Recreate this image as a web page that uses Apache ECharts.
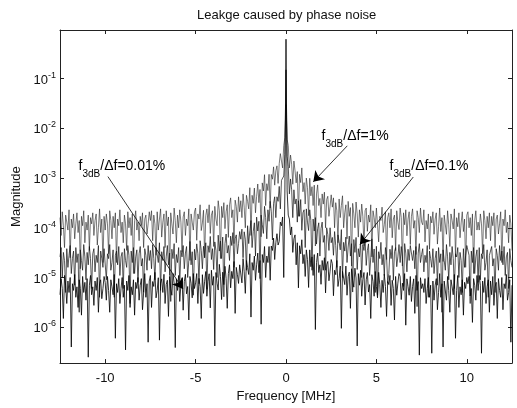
<!DOCTYPE html>
<html>
<head>
<meta charset="utf-8">
<script src="https://cdn.jsdelivr.net/npm/echarts@6/dist/echarts.min.js"></script>
<style>
  html, body { margin: 0; padding: 0; background: #fff; }
  #chart { width: 517px; height: 408px; }
</style>
</head>
<body>
<div id="chart"></div>
<script>
  // frequency bins (MHz): first bin and spacing
  const F_START = -12.5;
  const F_STEP = 0.0625;

  // magnitude spectra, one value per bin (401 bins)
  const magOnePct = [
    1.6e-4, 7e-5, 2.1e-4, 1.1e-4, 4e-5, 1.8e-4, 1.3e-4, 9e-5, 2.3e-4, 2.5e-5,
    1.5e-4, 1e-4, 1.9e-4, 6e-5, 1.2e-4, 2e-4, 8e-5, 1.4e-4, 1.5e-5, 1.7e-4,
    1.1e-4, 2.2e-4, 5e-5, 1.3e-4, 9e-5, 1.8e-4, 3.5e-5, 1.6e-4, 1.2e-4, 2e-4,
    7e-5, 1.4e-4, 1.9e-4, 4.5e-5, 1e-4, 2.4e-4, 8e-5, 1.5e-4, 2e-5, 1.7e-4,

    9e-5, 1.9e-4, 1.2e-4, 3e-5, 2.2e-4, 1.4e-4, 6e-5, 1.7e-4, 1e-4, 2e-4,
    2e-5, 1.5e-4, 1.1e-4, 2.3e-4, 8e-5, 1.3e-4, 5e-5, 1.8e-4, 1.2e-4, 3.5e-5,
    2.1e-4, 1e-4, 1.6e-4, 7e-5, 1.9e-4, 1.2e-5, 1.4e-4, 2.2e-4, 9e-5, 1.3e-4,
    5.5e-5, 1.7e-4, 1.1e-4, 2e-4, 4e-5, 1.5e-4, 1.8e-4, 7.5e-5, 1.2e-4, 2.1e-4,

    1.4e-4, 2.2e-4, 5.5e-5, 1.8e-4, 1.2e-4, 2.8e-5, 2.1e-4, 9e-5, 1.5e-4, 2.4e-4,
    6.5e-5, 1.3e-4, 1.9e-4, 4e-5, 2.2e-4, 1.1e-4, 1.65e-4, 1.1e-5, 2e-4, 1.2e-4,
    7.5e-5, 2.5e-4, 1.4e-4, 5e-5, 1.8e-4, 1e-4, 2.3e-4, 1.3e-4, 3.3e-5, 1.65e-4,
    2.1e-4, 7e-5, 1.5e-4, 1.1e-4, 2.4e-4, 2.2e-5, 1.9e-4, 1.3e-4, 9e-5, 2.1e-4,

    2.5e-4, 5.6e-5, 1.9e-4, 1.5e-4, 2.9e-4, 8.8e-5, 1.25e-4, 2.25e-4, 2.5e-5, 1.75e-4,
    2.4e-4, 1.26e-4, 2.9e-4, 7.7e-5, 1.8e-4, 2.2e-4, 4.2e-5, 2.7e-4, 1.5e-4, 1.1e-4,
    3.5e-4, 2.2e-4, 2.4e-5, 2.7e-4, 1.6e-4, 3.2e-4, 9.6e-5, 2.1e-4, 2.9e-4, 6.4e-5,
    2.9e-4, 4e-4, 1.6e-4, 2.3e-4, 4.8e-5, 3.6e-4, 2.7e-4, 1.3e-4, 4.2e-4, 2.1e-4,

    3.5e-4, 1.6e-4, 4.8e-4, 2.6e-4, 1e-4, 4.5e-4, 3.4e-4, 2.4e-4, 6.4e-4, 7e-5,
    4.5e-4, 3.1e-4, 6.3e-4, 2e-4, 4.3e-4, 7.6e-4, 3.2e-4, 5.9e-4, 6.6e-5, 8e-4,
    5.5e-4, 1.17e-3, 2.8e-4, 7.7e-4, 5.6e-4, 1.19e-3, 2.5e-4, 1.18e-3, 9.5e-4, 1.68e-3,
    7.2e-4, 1.4e-3, 1.76e-3, 7.8e-4, 1.95e-3, 3.1e-3, 2.2e-3, 1.6e-3, 4.5e-3, 6.5e-3,

    3e-2,

    6e-3, 4.5e-3, 1.6e-3, 2.9e-3, 1.9e-3, 7.5e-4, 2.2e-3, 1.4e-3, 8e-4, 1.35e-3,
    1.7e-4, 1.19e-3, 8.1e-4, 1.6e-3, 5.3e-4, 8.1e-4, 3e-4, 1e-3, 6.4e-4, 1.75e-4,
    9.9e-4, 4.4e-4, 6.7e-4, 2.8e-4, 7.2e-4, 4.3e-5, 4.8e-4, 7.3e-4, 2.8e-4, 3.9e-4,
    1.6e-4, 4.8e-4, 3e-4, 5.2e-4, 1e-4, 3.7e-4, 4.3e-4, 1.7e-4, 2.7e-4, 4.6e-4,

    2.6e-4, 4e-4, 1e-4, 3.2e-4, 2.2e-4, 5e-5, 3.8e-4, 1.6e-4, 2.8e-4, 4.4e-4,
    1e-4, 2e-4, 2.9e-4, 6e-5, 3.4e-4, 1.7e-4, 2.55e-4, 1.7e-5, 3.1e-4, 1.9e-4,
    1e-4, 3.3e-4, 1.9e-4, 6.5e-5, 2.3e-4, 1.3e-4, 3e-4, 1.7e-4, 4.4e-5, 2.2e-4,
    2.5e-4, 8.5e-5, 1.8e-4, 1.3e-4, 2.9e-4, 2.6e-5, 2.2e-4, 1.6e-4, 1e-4, 2.5e-4,

    2.3e-4, 5.2e-5, 1.7e-4, 1.4e-4, 2.6e-4, 8e-5, 1.15e-4, 2.1e-4, 2.3e-5, 1.6e-4,
    2e-4, 1e-4, 2.4e-4, 6.3e-5, 1.5e-4, 1.8e-4, 3.5e-5, 2.2e-4, 1.3e-4, 9.2e-5,
    2.5e-4, 1.6e-4, 1.7e-5, 2e-4, 1.15e-4, 2.3e-4, 6.9e-5, 1.5e-4, 2.1e-4, 4.6e-5,
    1.7e-4, 2.4e-4, 9.8e-5, 1.4e-4, 2.9e-5, 2.2e-4, 1.6e-4, 8e-5, 2.5e-4, 1.3e-4,

    1.15e-4, 2.3e-4, 5.2e-5, 1.4e-4, 9.5e-5, 1.9e-4, 3.7e-5, 1.7e-4, 1.25e-4, 2.1e-4,
    7.4e-5, 1.5e-4, 2e-4, 4.7e-5, 1.05e-4, 2.5e-4, 8.4e-5, 1.6e-4, 2.1e-5, 1.8e-4,
    1.7e-4, 7.4e-5, 2.2e-4, 1.15e-4, 4.2e-5, 1.9e-4, 1.4e-4, 9.5e-5, 2.4e-4, 2.6e-5,
    1.6e-4, 1.05e-4, 2e-4, 6.3e-5, 1.25e-4, 2.1e-4, 8.4e-5, 1.5e-4, 1.6e-5, 1.8e-4,

    2.1e-4, 1e-4, 1.6e-4, 7e-5, 1.9e-4, 1.2e-5, 1.4e-4, 2.2e-4, 9e-5, 1.3e-4,
    9e-5, 1.9e-4, 1.2e-4, 3e-5, 2.2e-4, 1.4e-4, 6e-5, 1.7e-4, 1e-4, 2e-4,
    5.5e-5, 1.7e-4, 1.1e-4, 2e-4, 4e-5, 1.5e-4, 1.8e-4, 7.5e-5, 1.2e-4, 2.1e-4,
    2e-5, 1.5e-4, 1.1e-4, 2.3e-4, 8e-5, 1.3e-4, 5e-5, 1.8e-4, 1.2e-4, 3.5e-5
  ];

  const magPointOnePct = [
    2.6e-5, 4e-5, 1e-5, 3.2e-5, 2.2e-5, 5e-6, 3.8e-5, 1.6e-5, 2.8e-5, 4.4e-5,
    1.2e-5, 2.4e-5, 3.4e-5, 7e-6, 4e-5, 2e-5, 3e-5, 2e-6, 3.6e-5, 2.2e-5,
    1.4e-5, 4.6e-5, 2.6e-5, 9e-6, 3.2e-5, 1.8e-5, 4.2e-5, 2.4e-5, 6e-6, 3e-5,
    3.8e-5, 1.3e-5, 2.8e-5, 2e-5, 4.4e-5, 4e-6, 3.4e-5, 2.4e-5, 1.6e-5, 3.8e-5,

    4e-5, 9e-6, 3e-5, 2.4e-5, 4.6e-5, 1.4e-5, 2e-5, 3.6e-5, 4e-6, 2.8e-5,
    3.4e-5, 1.8e-5, 4.2e-5, 1.1e-5, 2.6e-5, 3.2e-5, 6e-6, 3.8e-5, 2.2e-5, 1.6e-5,
    4.4e-5, 2.8e-5, 3e-6, 3.4e-5, 2e-5, 4e-5, 1.2e-5, 2.6e-5, 3.6e-5, 8e-6,
    3e-5, 4.2e-5, 1.7e-5, 2.4e-5, 5e-6, 3.8e-5, 2.8e-5, 1.4e-5, 4.4e-5, 2.2e-5,

    3.5e-5, 1.5e-5, 4.6e-5, 2.4e-5, 9e-6, 4e-5, 2.9e-5, 2e-5, 5e-5, 5.5e-6,
    3.3e-5, 2.2e-5, 4.2e-5, 1.3e-5, 2.6e-5, 4.4e-5, 1.8e-5, 3.1e-5, 3.3e-6, 3.7e-5,
    2.4e-5, 4.8e-5, 1.1e-5, 2.9e-5, 2e-5, 4e-5, 7.7e-6, 3.5e-5, 2.6e-5, 4.4e-5,
    1.5e-5, 3.1e-5, 4.2e-5, 1e-5, 2.2e-5, 5.3e-5, 1.8e-5, 3.3e-5, 4.4e-6, 3.7e-5,

    2.25e-5, 4.75e-5, 3e-5, 7.5e-6, 5.5e-5, 3.5e-5, 1.5e-5, 4.25e-5, 2.5e-5, 5e-5,
    5.8e-6, 4.35e-5, 3.2e-5, 6.7e-5, 2.3e-5, 3.8e-5, 1.45e-5, 5.2e-5, 3.5e-5, 1e-5,
    7.1e-5, 3.4e-5, 5.4e-5, 2.4e-5, 6.5e-5, 4.1e-6, 4.8e-5, 7.5e-5, 3.1e-5, 4.4e-5,
    2.2e-5, 6.8e-5, 4.4e-5, 8e-5, 1.6e-5, 6e-5, 7.2e-5, 3e-5, 4.8e-5, 8.4e-5,

    5.9e-5, 9.4e-5, 2.5e-5, 8.3e-5, 5.9e-5, 1.4e-5, 1.1e-4, 4.8e-5, 8.7e-5, 1.4e-4,
    4e-5, 8.4e-5, 1.26e-4, 2.7e-5, 1.64e-4, 8.6e-5, 1.35e-4, 9.5e-6, 1.8e-4, 1.16e-4,
    7.7e-5, 2.7e-4, 1.6e-4, 6e-5, 2.3e-4, 1.35e-4, 3.4e-4, 2.1e-4, 5.7e-5, 3.1e-4,
    4.2e-4, 1.6e-4, 4.2e-4, 3.4e-4, 6.8e-4, 2.4e-4, 9e-4, 8.8e-4, 1.1e-3, 3e-3,

    0.15,

    2.75e-3, 1.7e-3, 4.8e-4, 9.6e-4, 5.8e-4, 1.6e-4, 5.8e-4, 3e-4, 3.8e-4, 1.3e-4,
    3.5e-4, 1.7e-4, 3.7e-4, 8.9e-5, 2e-4, 2.3e-4, 4e-5, 2.4e-4, 1.3e-4, 8.8e-5,
    2.3e-4, 1.4e-4, 1.4e-5, 1.5e-4, 8.6e-5, 1.6e-4, 4.7e-5, 9.6e-5, 1.26e-4, 2.7e-5,
    9.6e-5, 1.3e-4, 5.1e-5, 7e-5, 1.4e-5, 1e-4, 7.3e-5, 3.5e-5, 1e-4, 5e-5,

    6.4e-5, 2.8e-5, 8.4e-5, 4.4e-5, 1.6e-5, 7.2e-5, 5.2e-5, 3.6e-5, 9.2e-5, 1e-5,
    5.1e-5, 3.4e-5, 6.5e-5, 2e-5, 4.1e-5, 6.8e-5, 2.7e-5, 4.8e-5, 5.1e-6, 5.8e-5,
    3.2e-5, 6.4e-5, 1.45e-5, 3.8e-5, 2.6e-5, 5.2e-5, 1e-5, 4.6e-5, 3.5e-5, 5.8e-5,
    1.75e-5, 3.5e-5, 4.75e-5, 1.1e-5, 2.5e-5, 6e-5, 2e-5, 3.75e-5, 5e-6, 4.25e-5,

    4.4e-6, 3.3e-5, 2.4e-5, 5.1e-5, 1.8e-5, 2.9e-5, 1.1e-5, 4e-5, 2.6e-5, 7.7e-6,
    1.2e-5, 3.7e-5, 2.4e-5, 4.4e-5, 8.8e-6, 3.3e-5, 4e-5, 1.65e-5, 2.6e-5, 4.6e-5,
    2e-5, 4.2e-5, 2.6e-5, 6.6e-6, 4.8e-5, 3.1e-5, 1.3e-5, 3.7e-5, 2.2e-5, 4.4e-5,
    4.6e-5, 2.2e-5, 3.5e-5, 1.5e-5, 4.2e-5, 2.6e-6, 3.1e-5, 4.8e-5, 2e-5, 2.9e-5,

    3.8e-5, 1.3e-5, 2.8e-5, 2e-5, 4.4e-5, 4e-6, 3.4e-5, 2.4e-5, 1.6e-5, 3.8e-5,
    1.2e-5, 2.4e-5, 3.4e-5, 7e-6, 4e-5, 2e-5, 3e-5, 2e-6, 3.6e-5, 2.2e-5,
    1.4e-5, 4.6e-5, 2.6e-5, 9e-6, 3.2e-5, 1.8e-5, 4.2e-5, 2.4e-5, 6e-6, 3e-5,
    2.6e-5, 4e-5, 1e-5, 3.2e-5, 2.2e-5, 5e-6, 3.8e-5, 1.6e-5, 2.8e-5, 4.4e-5,

    4.4e-5, 2.8e-5, 3e-6, 3.4e-5, 2e-5, 4e-5, 1.2e-5, 2.6e-5, 3.6e-5, 8e-6,
    4e-5, 9e-6, 3e-5, 2.4e-5, 4.6e-5, 1.4e-5, 2e-5, 3.6e-5, 4e-6, 2.8e-5,
    3e-5, 4.2e-5, 1.7e-5, 2.4e-5, 5e-6, 3.8e-5, 2.8e-5, 1.4e-5, 4.4e-5, 2.2e-5,
    3.4e-5, 1.8e-5, 4.2e-5, 1.1e-5, 2.6e-5, 3.2e-5, 6e-6, 3.8e-5, 2.2e-5, 1.6e-5
  ];

  const magPointZeroOnePct = [
    4.5e-6, 9.5e-6, 6e-6, 1.5e-6, 1.1e-5, 7e-6, 3e-6, 8.5e-6, 5e-6, 1e-5,
    4e-7, 7.5e-6, 5.5e-6, 1.15e-5, 4e-6, 6.5e-6, 2.5e-6, 9e-6, 6e-6, 1.75e-6,
    1.05e-5, 5e-6, 8e-6, 3.5e-6, 9.5e-6, 2.5e-7, 7e-6, 1.1e-5, 4.5e-6, 6.5e-6,
    2.75e-6, 8.5e-6, 5.5e-6, 1e-5, 2e-6, 7.5e-6, 9e-6, 3.75e-6, 6e-6, 1.05e-5,

    8e-6, 3.5e-6, 1.05e-5, 5.5e-6, 2e-6, 9e-6, 6.5e-6, 4.5e-6, 1.15e-5, 6e-7,
    7.5e-6, 5e-6, 9.5e-6, 3e-6, 6e-6, 1e-5, 4e-6, 7e-6, 3.5e-7, 8.5e-6,
    5.5e-6, 1.1e-5, 2.5e-6, 6.5e-6, 4.5e-6, 9e-6, 1.75e-6, 8e-6, 6e-6, 1e-5,
    3.5e-6, 7e-6, 9.5e-6, 2.25e-6, 5e-6, 1.2e-5, 4e-6, 7.5e-6, 5e-7, 8.5e-6,

    1.1e-5, 2.5e-6, 8.3e-6, 6.6e-6, 1.27e-5, 3.9e-6, 5.5e-6, 9.9e-6, 5.5e-7, 7.7e-6,
    9.4e-6, 5e-6, 1.16e-5, 3e-6, 7.2e-6, 8.8e-6, 1.65e-6, 1.05e-5, 6e-6, 4.4e-6,
    1.2e-5, 7.7e-6, 3.9e-7, 9.4e-6, 5.5e-6, 1.1e-5, 3.3e-6, 7.2e-6, 9.9e-6, 2.2e-6,
    8.3e-6, 1.16e-5, 4.7e-6, 6.6e-6, 1.4e-6, 1.05e-5, 7.7e-6, 3.9e-6, 1.2e-5, 6e-6,

    7.8e-6, 1.2e-5, 3e-6, 9.6e-6, 6.6e-6, 1.5e-6, 1.14e-5, 4.8e-6, 8.4e-6, 1.32e-5,
    4.2e-6, 8.4e-6, 1.19e-5, 2.45e-6, 1.4e-5, 7e-6, 1.05e-5, 4.2e-7, 1.26e-5, 7.7e-6,
    5.6e-6, 1.84e-5, 1.04e-5, 3.6e-6, 1.28e-5, 7.2e-6, 1.68e-5, 9.6e-6, 2.4e-6, 1.2e-5,
    1.8e-5, 6.2e-6, 1.33e-5, 9.5e-6, 2.1e-5, 1.9e-6, 1.6e-5, 1.14e-5, 7.6e-6, 1.8e-5,

    1.76e-5, 7.8e-6, 2.4e-5, 1.3e-5, 4.8e-6, 2.2e-5, 1.6e-5, 1.15e-5, 3e-5, 1.6e-6,
    2e-5, 1.4e-5, 2.7e-5, 8.8e-6, 1.8e-5, 3.1e-5, 1.25e-5, 2.2e-5, 1.15e-6, 2.9e-5,
    2e-5, 4.2e-5, 1e-5, 2.7e-5, 2e-5, 4.2e-5, 8.8e-6, 4.3e-5, 3.5e-5, 6.2e-5,
    2.3e-5, 5e-5, 7.6e-5, 4.5e-5, 5.3e-5, 1.3e-4, 1.1e-4, 1.65e-4, 1e-5, 5e-4,

    0.62,

    5.5e-4, 1.8e-4, 1.5e-4, 7.2e-5, 1.04e-4, 3.2e-5, 6e-5, 7.2e-5, 1.8e-5, 5e-5,
    6.2e-6, 4.35e-5, 3e-5, 5.75e-5, 1.9e-5, 2.9e-5, 1.05e-5, 3.6e-5, 2.3e-5, 6.3e-6,
    3.6e-5, 1.65e-5, 2.6e-5, 1.1e-5, 2.9e-5, 9e-7, 2e-5, 3.1e-5, 1.26e-5, 1.8e-5,
    7.3e-6, 2.2e-5, 1.4e-5, 2.5e-5, 4.9e-6, 1.8e-5, 2.1e-5, 8.6e-6, 1.34e-5, 2.3e-5,

    1.9e-5, 4.3e-6, 1.4e-5, 1.14e-5, 2.2e-5, 6.6e-6, 9.5e-6, 1.7e-5, 9.5e-7, 1.33e-5,
    1.36e-5, 7.2e-6, 1.7e-5, 4.4e-6, 1.04e-5, 1.28e-5, 2.4e-6, 1.5e-5, 8.8e-6, 6.4e-6,
    1.54e-5, 9.8e-6, 4.2e-7, 1.2e-5, 7e-6, 1.4e-5, 4.2e-6, 9.1e-6, 1.26e-5, 2.8e-6,
    9e-6, 1.26e-5, 5.1e-6, 7.2e-6, 1.5e-6, 1.14e-5, 8.4e-6, 4.2e-6, 1.32e-5, 6.6e-6,

    3.9e-6, 1.27e-5, 7.2e-6, 2.5e-6, 8.8e-6, 5e-6, 1.16e-5, 6.6e-6, 1.65e-6, 8.3e-6,
    7.2e-6, 1.1e-5, 2.75e-6, 8.8e-6, 6e-6, 1.4e-6, 1.05e-5, 4.4e-6, 7.7e-6, 1.2e-5,
    1.05e-5, 3.6e-6, 7.7e-6, 5.5e-6, 1.2e-5, 1.1e-6, 9.4e-6, 6.6e-6, 4.4e-6, 1.05e-5,
    3.3e-6, 6.6e-6, 9.4e-6, 1.9e-6, 1.1e-5, 5.5e-6, 8.3e-6, 2.75e-7, 9.9e-6, 6e-6,

    7.5e-6, 5e-6, 9.5e-6, 3e-6, 6e-6, 1e-5, 4e-6, 7e-6, 3e-7, 8.5e-6,
    3.5e-6, 7e-6, 9.5e-6, 2.25e-6, 5e-6, 1.2e-5, 4e-6, 7.5e-6, 4e-7, 8.5e-6,
    8e-6, 3.5e-6, 1.05e-5, 5.5e-6, 2e-6, 9e-6, 6.5e-6, 4.5e-6, 1.15e-5, 6e-7,
    5.5e-6, 1.1e-5, 2.5e-6, 6.5e-6, 4.5e-6, 9e-6, 1.75e-6, 8e-6, 6e-6, 1e-5,

    7.5e-6, 1.05e-5, 4.25e-6, 6e-6, 1.25e-6, 9.5e-6, 7e-6, 3.5e-6, 1.1e-5, 5.5e-6,
    1.1e-5, 7e-6, 3e-7, 8.5e-6, 5e-6, 1e-5, 3e-6, 6.5e-6, 9e-6, 2e-6,
    8.5e-6, 4.5e-6, 1.05e-5, 2.75e-6, 6.5e-6, 8e-6, 1.5e-6, 9.5e-6, 5.5e-6, 4e-6,
    1e-5, 2.25e-6, 7.5e-6, 6e-6, 1.15e-5, 3.5e-6, 5e-6, 9e-6, 5e-7, 7e-6
  ];

  // annotation texts: label anchor and arrow [from, to] in data coords
  const noteLabels = ['0.01%', '1%', '0.1%'];
  const noteAnchors = [[-11.5, 1.53e-3], [1.94, 6.05e-3], [5.7, 1.53e-3]];
  const noteArrows = [
    [[-9.85, 1.07e-3], [-5.7, 5.9e-6]],
    [[3.39, 4.45e-3], [1.51, 8.4e-4]],
    [[7.04, 1.05e-3], [4.09, 4.6e-5]]
  ];

  const FONT = '"Liberation Sans", Arial, Helvetica, sans-serif';

  function toPairs(mags) {
    return mags.map((v, i) => [F_START + i * F_STEP, v]);
  }

  const chart = echarts.init(document.getElementById('chart'));

  const noteRich = {
    f: { fontSize: 14, fontFamily: FONT, color: '#000', lineHeight: 20, verticalAlign: 'top' },
    sub: { fontSize: 10, fontFamily: FONT, color: '#000', lineHeight: 20, verticalAlign: 'bottom' }
  };

  const markPointData = noteLabels.map((t, i) => ({
    coord: noteAnchors[i],
    symbol: 'circle',
    symbolSize: 1,
    itemStyle: { color: 'rgba(0,0,0,0)' },
    label: {
      show: true,
      position: 'right',
      distance: 0,
      formatter: '{f|f}{sub|3dB}{f|/\u0394f=' + t + '}',
      rich: noteRich
    }
  }));

  const markLineData = noteArrows.map(a => [{ coord: a[0] }, { coord: a[1] }]);

  const lineSeries = (name, mags, color, width) => ({
    name: name,
    type: 'line',
    data: toPairs(mags),
    showSymbol: false,
    symbol: 'none',
    silent: true,
    lineStyle: { color: color, width: width },
    z: 2
  });

  const s1 = lineSeries('1%', magOnePct, '#222', 0.6);
  s1.markPoint = { silent: true, data: markPointData };
  s1.markLine = {
    silent: true,
    symbol: ['none', 'arrow'],
    symbolSize: 10,
    label: { show: false },
    itemStyle: { color: '#000' },
    lineStyle: { color: '#000', width: 0.8, type: 'solid' },
    emphasis: { disabled: true },
    data: markLineData
  };

  const logLabel = v => {
    const e = Math.log10(v);
    const r = Math.round(e);
    if (Math.abs(e - r) > 1e-6 || r >= 0) return '';
    return '{b|10}{s|' + r + '}';
  };

  const axisLine = { show: true, onZero: false, lineStyle: { color: '#222', width: 1 } };
  const axisTick = { show: true, inside: true, length: 4, lineStyle: { color: '#222' } };

  chart.setOption({
    animation: false,
    backgroundColor: '#fff',
    title: {
      text: 'Leakge caused by phase noise',
      left: 192,
      top: 4,
      textStyle: { fontFamily: FONT, fontSize: 13, fontWeight: 'normal', color: '#111' }
    },
    grid: { left: 60, right: 5, top: 30, bottom: 41 },
    xAxis: [
      {
        type: 'value',
        min: -12.5,
        max: 12.5,
        position: 'bottom',
        axisLine: axisLine,
        axisTick: axisTick,
        splitLine: { show: false },
        axisLabel: {
          showMinLabel: false,
          showMaxLabel: false,
          margin: 9,
          fontFamily: FONT,
          fontSize: 13,
          color: '#111',
          formatter: v => (Math.abs(v % 5) < 1e-9 ? String(v) : '')
        },
        name: 'Frequency [MHz]',
        nameLocation: 'middle',
        nameGap: 26,
        nameTextStyle: { fontFamily: FONT, fontSize: 13, color: '#111' }
      },
      {
        type: 'value',
        min: -12.5,
        max: 12.5,
        position: 'top',
        axisLine: axisLine,
        axisTick: axisTick,
        axisLabel: { show: false },
        splitLine: { show: false }
      }
    ],
    yAxis: [
      {
        type: 'log',
        logBase: 10,
        min: 1.9e-7,
        max: 0.95,
        position: 'left',
        axisLine: axisLine,
        axisTick: axisTick,
        splitLine: { show: false },
        axisLabel: {
          margin: 4,
          formatter: logLabel,
          rich: {
            b: { fontFamily: FONT, fontSize: 13, color: '#111', lineHeight: 16, verticalAlign: 'bottom' },
            s: { fontFamily: FONT, fontSize: 9, color: '#111', lineHeight: 16, verticalAlign: 'top' }
          }
        },
        name: 'Magnitude',
        nameLocation: 'middle',
        nameGap: 26,
        nameTextStyle: { fontFamily: FONT, fontSize: 13, color: '#111' }
      },
      {
        type: 'log',
        logBase: 10,
        min: 1.9e-7,
        max: 0.95,
        position: 'right',
        axisLine: axisLine,
        axisTick: axisTick,
        axisLabel: { show: false },
        splitLine: { show: false }
      }
    ],
    series: [
      s1,
      lineSeries('0.1%', magPointOnePct, '#111', 0.7),
      lineSeries('0.01%', magPointZeroOnePct, '#000', 0.8)
    ]
  });
</script>
</body>
</html>
